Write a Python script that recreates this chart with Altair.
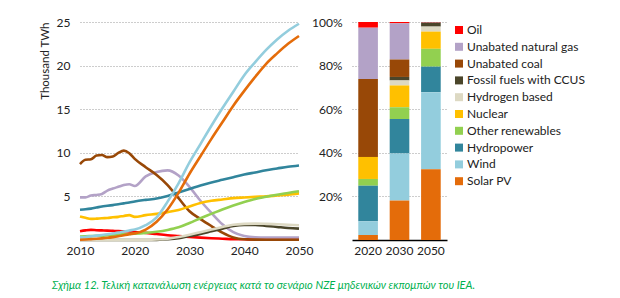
import altair as alt
import pandas as pd

# ---- shared categories and colours (legend order, top to bottom) ----
SOURCES = [
    "Oil",
    "Unabated natural gas",
    "Unabated coal",
    "Fossil fuels with CCUS",
    "Hydrogen based",
    "Nuclear",
    "Other renewables",
    "Hydropower",
    "Wind",
    "Solar PV",
]
COLORS = [
    "#FF0000",
    "#B3A2C7",
    "#984807",
    "#4A452A",
    "#DDD9C3",
    "#FFC000",
    "#92D050",
    "#31859C",
    "#93CDDD",
    "#E46C0A",
]

# ---- electricity generation by source, thousand TWh ----
YEARS = [2010, 2011, 2012, 2013, 2014, 2015, 2016, 2017, 2018, 2019, 2020,
         2022, 2024, 2026, 2028, 2030, 2032, 2034, 2036, 2038, 2040,
         2042, 2044, 2046, 2048, 2050]

OIL = [1.0, 1.1, 1.16, 1.12, 1.1, 1.08, 1.05, 1.02, 1.0, 0.98, 0.9,
       0.82, 0.68, 0.55, 0.45, 0.35, 0.27, 0.2, 0.15, 0.1, 0.08,
       0.06, 0.05, 0.05, 0.05, 0.05]
GAS = [4.89, 4.89, 5.1, 5.17, 5.28, 5.67, 5.9, 6.1, 6.3, 6.4, 6.2,
       7.3, 7.8, 7.98, 7.4, 6.1, 4.5, 3.1, 1.8, 0.9, 0.45,
       0.3, 0.28, 0.28, 0.28, 0.28]
COAL = [8.71, 9.2, 9.26, 9.68, 9.75, 9.5, 9.57, 9.99, 10.25, 9.95, 9.3,
        8.35, 7.45, 6.3, 4.8, 3.3, 2.4, 1.6, 0.85, 0.3, 0.08,
        0.04, 0.03, 0.03, 0.03, 0.03]
CCUS = [0, 0, 0, 0, 0, 0, 0, 0, 0, 0, 0,
        0.0, 0.02, 0.08, 0.2, 0.45, 0.7, 1.0, 1.3, 1.6, 1.72,
        1.72, 1.62, 1.5, 1.38, 1.3]
HYDROGEN = [0, 0, 0, 0, 0, 0, 0, 0, 0, 0, 0,
            0.01, 0.05, 0.15, 0.35, 0.6, 0.9, 1.2, 1.5, 1.75, 1.85,
            1.88, 1.85, 1.8, 1.75, 1.7]
NUCLEAR = [2.7, 2.55, 2.42, 2.45, 2.5, 2.52, 2.6, 2.65, 2.76, 2.85, 2.65,
           2.85, 3.0, 3.2, 3.45, 3.85, 4.25, 4.5, 4.65, 4.8, 4.88,
           4.95, 5.0, 5.1, 5.2, 5.35]
OTHER_RENEWABLES = [0.4, 0.42, 0.45, 0.48, 0.5, 0.54, 0.58, 0.62, 0.65, 0.68, 0.72,
                    0.82, 0.95, 1.15, 1.45, 1.95, 2.5, 3.0, 3.5, 3.95, 4.35,
                    4.7, 4.95, 5.2, 5.4, 5.6]
HYDROPOWER = [3.47, 3.52, 3.6, 3.72, 3.85, 3.92, 4.0, 4.1, 4.2, 4.3, 4.42,
              4.6, 4.75, 5.05, 5.45, 5.85, 6.25, 6.6, 6.9, 7.2, 7.5,
              7.75, 8.0, 8.2, 8.4, 8.55]
WIND = [0.3, 0.35, 0.42, 0.5, 0.57, 0.65, 0.75, 0.85, 0.98, 1.1, 1.2,
        1.7, 2.6, 4.4, 6.5, 8.9, 11.0, 13.1, 15.1, 17.0, 18.9,
        20.4, 21.8, 23.0, 24.0, 24.8]
SOLAR_PV = [0.03, 0.06, 0.1, 0.14, 0.19, 0.25, 0.33, 0.43, 0.55, 0.65, 0.75,
            1.2, 2.1, 3.5, 5.4, 7.6, 9.6, 11.6, 13.5, 15.4, 17.1,
            18.7, 20.2, 21.4, 22.5, 23.4]

SERIES = [OIL, GAS, COAL, CCUS, HYDROGEN, NUCLEAR, OTHER_RENEWABLES,
          HYDROPOWER, WIND, SOLAR_PV]

# ---- generation mix, % of total ----
MIX_YEARS = ["2020", "2030", "2050"]
MIX = {
    "Oil": [2.6, 0.6, 0.2],
    "Unabated natural gas": [23.5, 16.6, 0.1],
    "Unabated coal": [35.8, 8.0, 0.0],
    "Fossil fuels with CCUS": [0.0, 1.6, 1.8],
    "Hydrogen based": [0.0, 2.3, 2.3],
    "Nuclear": [10.1, 10.0, 7.9],
    "Other renewables": [3.1, 5.4, 8.2],
    "Hydropower": [16.3, 15.8, 11.7],
    "Wind": [6.3, 21.6, 35.3],
    "Solar PV": [2.3, 18.1, 32.5],
}

CAPTION = ("Σχήμα 12. Τελική κατανάλωση ενέργειας κατά το σενάριο NZE "
           "μηδενικών εκπομπών του IEA.")

FONT = "Lato"
TEXT = "#222222"

line_rows = []
for name, values in zip(SOURCES, SERIES):
    for yr, v in zip(YEARS, values):
        line_rows.append({"source": name, "year": yr, "value": v})
line_df = pd.DataFrame(line_rows)

bar_rows = []
for name in SOURCES:
    for yr, v in zip(MIX_YEARS, MIX[name]):
        # Solar PV sits at the bottom of each stack, Oil at the top
        bar_rows.append({"source": name, "year": yr, "share": v,
                         "stack": len(SOURCES) - SOURCES.index(name)})
bar_df = pd.DataFrame(bar_rows)

color_scale = alt.Scale(domain=SOURCES, range=COLORS)

lines = alt.Chart(line_df).mark_line(strokeWidth=2.6, interpolate="monotone").encode(
    x=alt.X("year:Q",
            scale=alt.Scale(domain=[2010, 2050], nice=False, zero=False),
            axis=alt.Axis(values=[2010, 2020, 2030, 2040, 2050], format="d",
                          title=None, grid=False, domain=False, ticks=False,
                          labelFlush=False, labelPadding=5, labelFontSize=12,
                          labelColor=TEXT)),
    y=alt.Y("value:Q",
            scale=alt.Scale(domain=[0, 25], nice=False),
            axis=alt.Axis(values=[5, 10, 15, 20, 25], title="Thousand TWh",
                          titleAnchor="end", titleFontSize=11.5,
                          titleFontWeight="normal", titleColor=TEXT,
                          titlePadding=6,
                          grid=True, gridDash=[1, 2], gridColor="#9a9a9a",
                          domain=False, ticks=False, labelPadding=10,
                          labelFontSize=12, labelColor=TEXT)),
    color=alt.Color("source:N", scale=color_scale, legend=None),
    detail="source:N",
).properties(width=219, height=218)

bars = alt.Chart(bar_df).mark_bar().encode(
    x=alt.X("year:O",
            scale=alt.Scale(paddingInner=0.375, paddingOuter=0.2),
            axis=alt.Axis(title=None, labelAngle=0, domainColor="#000000",
                          domainWidth=1.5, ticks=False, grid=False,
                          labelPadding=5, labelFontSize=12, labelColor=TEXT)),
    y=alt.Y("share:Q", stack="zero",
            scale=alt.Scale(domain=[0, 100], nice=False),
            axis=alt.Axis(values=[20, 40, 60, 80, 100],
                          labelExpr="datum.value + '%'", title=None,
                          grid=True, gridDash=[1, 2], gridColor="#9a9a9a",
                          domain=False, ticks=False, labelPadding=10,
                          labelFontSize=12, labelColor=TEXT)),
    color=alt.Color("source:N", scale=color_scale, sort=SOURCES,
                    legend=alt.Legend(title=None, orient="none",
                                      legendX=101, legendY=2,
                                      symbolType="square", symbolSize=64,
                                      symbolStrokeWidth=0,
                                      labelFontSize=12, labelColor=TEXT,
                                      labelOffset=2, rowPadding=4.8)),
    order=alt.Order("stack:Q"),
).properties(width=95, height=218)

chart = alt.hconcat(lines, bars, spacing=-2).resolve_scale(
    color="independent"
).resolve_legend(color="independent").properties(
    title=alt.TitleParams(CAPTION, orient="bottom", anchor="start",
                          dx=13, offset=24, fontSize=11, font=FONT,
                          fontStyle="italic", fontWeight="normal",
                          color="#00B050"),
    padding={"left": 39, "top": 16, "right": 5, "bottom": 5},
).configure(font=FONT).configure_view(stroke=None)

chart.save("out.html", embed_options={"renderer": "svg", "actions": False})
